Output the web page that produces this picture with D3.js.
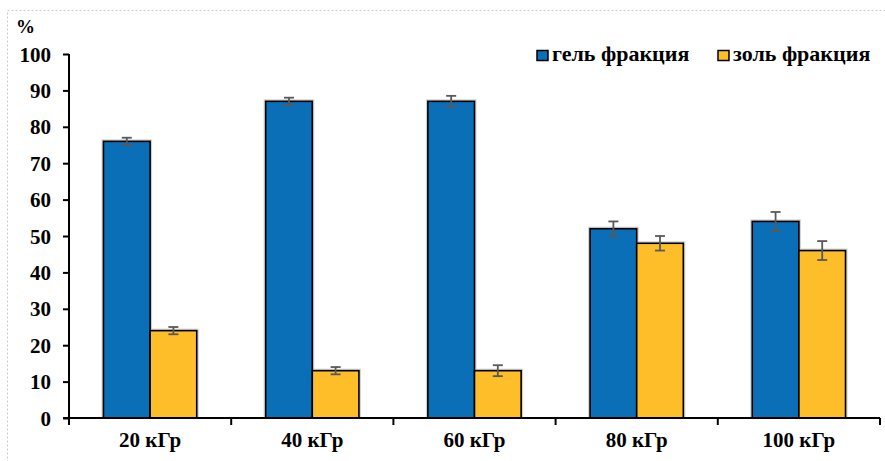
<!DOCTYPE html>
<html>
<head>
<meta charset="utf-8">
<script src="https://cdn.jsdelivr.net/npm/d3@7"></script>
</head>
<body style="margin:0;background:#fff">
<div id="fig"></div>
<script>
// Radiation doses (categories)
const categories = ["20 кГр", "40 кГр", "60 кГр", "80 кГр", "100 кГр"];
// Series names
const seriesNames = ["гель фракция", "золь фракция"];
// Gel fraction, % and its error
const gelValues = [76, 87, 87, 52, 54];
const gelErrors = [1, 1, 1.5, 2, 2.6];
// Sol fraction, % and its error
const solValues = [24, 13, 13, 48, 46];
const solErrors = [1, 1, 1.5, 2, 2.6];
// Y axis ticks
const yTicks = [0, 10, 20, 30, 40, 50, 60, 70, 80, 90, 100];

const colors = ["#0B6FB7", "#FDBE29"];
const FONT = "\"Liberation Serif\"";

const W = 885, H = 461;
const svg = d3.select("#fig").append("svg").attr("width", W).attr("height", H).style("display", "block");
const plotLeft = 69, plotRight = 880, plotTop = 54, plotBottom = 418;

function styleText(sel, size) {
  return sel.style("font-family", FONT).style("font-weight", "bold")
    .style("font-size", size + "px").attr("fill", "#000");
}

// dotted frame around chart area
svg.append("rect")
  .attr("x", 7.5).attr("y", 10.5)
  .attr("width", W + 20).attr("height", H + 20)
  .attr("fill", "none")
  .attr("stroke", "#c8c8c8")
  .attr("stroke-width", 1)
  .attr("stroke-dasharray", "2,2");

const x0 = d3.scaleBand().domain(categories).range([plotLeft, plotRight]).paddingInner(0.425).paddingOuter(0.2125);
const x1 = d3.scaleBand().domain([0, 1]).range([0, x0.bandwidth()]);
const y = d3.scaleLinear().domain([0, 100]).range([plotBottom, plotTop]);

const data = categories.map((c, i) => ({
  cat: c,
  items: [
    { s: 0, v: gelValues[i], e: gelErrors[i] },
    { s: 1, v: solValues[i], e: solErrors[i] }
  ]
}));

const groups = svg.append("g").selectAll("g").data(data).join("g")
  .attr("transform", d => `translate(${x0(d.cat)},0)`);

// soft halo behind bars
groups.selectAll("rect.halo").data(d => d.items).join("rect")
  .attr("class", "halo")
  .attr("x", d => x1(d.s) - 1)
  .attr("y", d => y(d.v) - 1)
  .attr("width", x1.bandwidth() + 2)
  .attr("height", d => y(0) - y(d.v) + 1)
  .attr("fill", "none")
  .attr("stroke", "#d0d0d0")
  .attr("stroke-width", 2);

// bars
groups.selectAll("rect.bar").data(d => d.items).join("rect")
  .attr("class", "bar")
  .attr("x", d => x1(d.s))
  .attr("y", d => y(d.v))
  .attr("width", x1.bandwidth())
  .attr("height", d => y(0) - y(d.v))
  .attr("fill", d => colors[d.s])
  .attr("stroke", "#000")
  .attr("stroke-width", 1.6);

// error bars
const eb = groups.selectAll("g.err").data(d => d.items).join("g").attr("class", "err")
  .attr("transform", d => `translate(${x1(d.s) + x1.bandwidth() / 2},0)`)
  .attr("stroke", "#595959").attr("stroke-width", 1.8);
eb.append("line").attr("x1", 0).attr("x2", 0).attr("y1", d => y(d.v + d.e)).attr("y2", d => y(d.v - d.e));
eb.append("line").attr("x1", -5).attr("x2", 5).attr("y1", d => y(d.v + d.e)).attr("y2", d => y(d.v + d.e));
eb.append("line").attr("x1", -5).attr("x2", 5).attr("y1", d => y(d.v - d.e)).attr("y2", d => y(d.v - d.e));

// Y axis
const yAxis = svg.append("g")
  .attr("transform", `translate(${plotLeft},0)`)
  .call(d3.axisLeft(y).tickValues(yTicks).tickSize(6).tickPadding(12).tickSizeOuter(0));
yAxis.attr("font-family", "Liberation Serif").attr("font-size", null);
yAxis.select(".domain").attr("stroke", "#000").attr("stroke-width", 2).attr("d", `M0,${y(100)}V${y(0)}`);
yAxis.selectAll(".tick line").attr("stroke", "#000").attr("stroke-width", 2);
styleText(yAxis.selectAll(".tick text"), 21).attr("dy", "0.34em");

// X axis
const xAxis = svg.append("g").attr("transform", `translate(0,${plotBottom})`);
xAxis.append("line").attr("x1", plotLeft - 6).attr("x2", plotRight).attr("y1", 0).attr("y2", 0)
  .attr("stroke", "#000").attr("stroke-width", 2);
const boundaries = categories.map(c => x0(c) - x0.step() * x0.paddingInner() / 2).concat([plotRight]);
xAxis.selectAll("line.tk").data(boundaries).join("line").attr("class", "tk")
  .attr("x1", d => d).attr("x2", d => d).attr("y1", 0).attr("y2", 7)
  .attr("stroke", "#000").attr("stroke-width", 2);
styleText(xAxis.selectAll("text").data(categories).join("text"), 21)
  .attr("x", d => x0(d) + x0.bandwidth() / 2)
  .attr("y", 29)
  .attr("text-anchor", "middle")
  .text(d => d);

// unit label
styleText(svg.append("text"), 19).attr("x", 16).attr("y", 33).text("%");

// legend
const legendX = [537, 718];
const leg = svg.append("g").selectAll("g").data(seriesNames).join("g")
  .attr("transform", (d, i) => `translate(${legendX[i]},50)`);
leg.append("rect").attr("x", 0).attr("y", 0.5).attr("width", 11).attr("height", 10)
  .attr("fill", (d, i) => colors[i]).attr("stroke", "#000").attr("stroke-width", 1.5);
styleText(leg.append("text"), 22).attr("x", 15).attr("y", 11).text(d => d);
</script>
</body>
</html>
